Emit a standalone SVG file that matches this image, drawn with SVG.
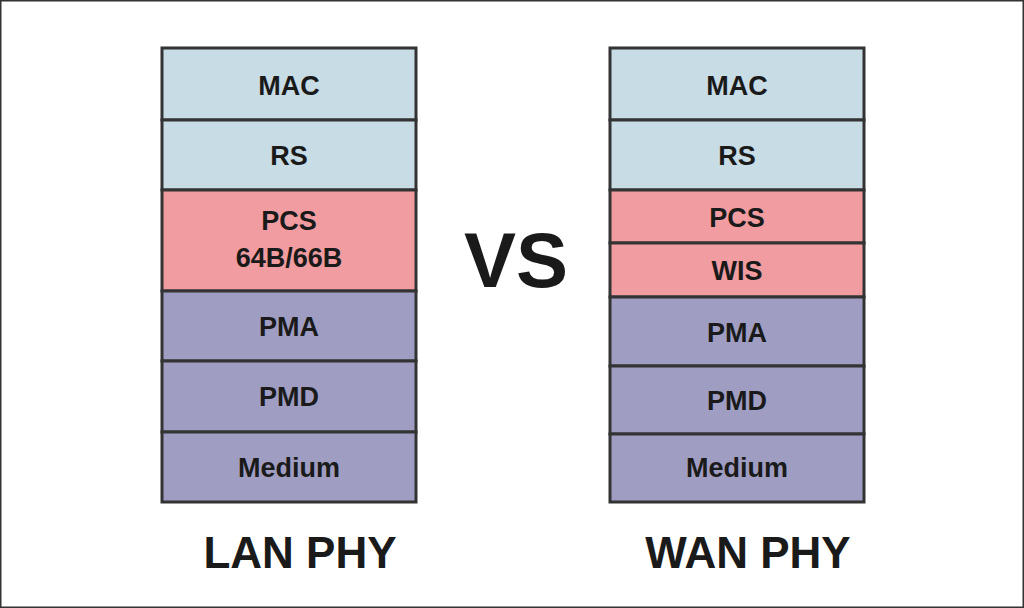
<svg xmlns="http://www.w3.org/2000/svg" width="1024" height="608" viewBox="0 0 1024 608">
<style>
.b{fill:#c8dce6}.p{fill:#f19ca0}.u{fill:#9f9ec2}
rect{stroke:#333;stroke-width:3}
text{font-family:"Liberation Sans",Arial,sans-serif;font-weight:bold;fill:#1a1a1a;text-anchor:middle}
.l{font-size:27px}.t{font-size:44px}
</style>
<rect width="1024" height="608" fill="#fff" stroke="none"/>
<g id="lan">
<g id="lan-mac"><rect class="b" x="162" y="48" width="254" height="72"/><text class="l" x="289" y="95">MAC</text></g>
<g id="lan-rs"><rect class="b" x="162" y="120" width="254" height="70"/><text class="l" x="289" y="165">RS</text></g>
<g id="lan-pcs"><rect class="p" x="162" y="190" width="254" height="101"/><text class="l" x="289" y="230">PCS</text><text class="l" x="289" y="267">64B/66B</text></g>
<g id="lan-pma"><rect class="u" x="162" y="291" width="254" height="70"/><text class="l" x="289" y="336">PMA</text></g>
<g id="lan-pmd"><rect class="u" x="162" y="361" width="254" height="71"/><text class="l" x="289" y="406">PMD</text></g>
<g id="lan-medium"><rect class="u" x="162" y="432" width="254" height="70"/><text class="l" x="289" y="477">Medium</text></g>
<text class="t" x="300" y="568">LAN PHY</text>
</g>
<g id="wan">
<g id="wan-mac"><rect class="b" x="610" y="48" width="254" height="72"/><text class="l" x="737" y="95">MAC</text></g>
<g id="wan-rs"><rect class="b" x="610" y="120" width="254" height="70"/><text class="l" x="737" y="165">RS</text></g>
<g id="wan-pcs"><rect class="p" x="610" y="190" width="254" height="53"/><text class="l" x="737" y="227">PCS</text></g>
<g id="wan-wis"><rect class="p" x="610" y="243" width="254" height="54"/><text class="l" x="737" y="280">WIS</text></g>
<g id="wan-pma"><rect class="u" x="610" y="297" width="254" height="69"/><text class="l" x="737" y="342">PMA</text></g>
<g id="wan-pmd"><rect class="u" x="610" y="366" width="254" height="68"/><text class="l" x="737" y="410">PMD</text></g>
<g id="wan-medium"><rect class="u" x="610" y="434" width="254" height="68"/><text class="l" x="737" y="477">Medium</text></g>
<text class="t" x="748" y="568">WAN PHY</text>
</g>
<g id="connectors"/>
<text x="516" y="287" style="font-size:78px">VS</text>
</svg>
